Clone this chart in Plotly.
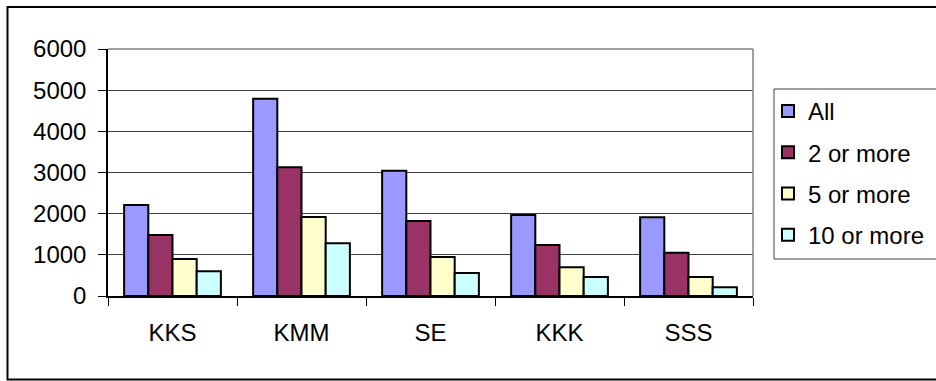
import plotly.graph_objects as go

# ---- data ----
categories = ["KKS", "KMM", "SE", "KKK", "SSS"]
series_names = ["All", "2 or more", "5 or more", "10 or more"]
all_counts = [2210, 4790, 3040, 1970, 1910]
two_or_more = [1480, 3130, 1820, 1240, 1050]
five_or_more = [900, 1920, 950, 700, 460]
ten_or_more = [600, 1280, 560, 460, 210]
y_ticks = [0, 1000, 2000, 3000, 4000, 5000, 6000]

series_values = [all_counts, two_or_more, five_or_more, ten_or_more]
series_colors = ["#9999FF", "#993366", "#FFFFCC", "#CCFFFF"]

# ---- geometry (pixels) ----
W, H = 936, 381
L, R, T, B = 108, 936 - 753, 49, 381 - 296
plot_w = W - L - R
plot_h = H - T - B


def px_x(p):
    return (p - L) / plot_w


def px_y(p):
    return (H - B - p) / plot_h


FONT = "Liberation Sans, Arial, sans-serif"
FS = 24

fig = go.Figure()
for i, (name, vals, col) in enumerate(zip(series_names, series_values, series_colors)):
    fig.add_trace(go.Bar(
        x=categories, y=vals, name=name,
        marker=dict(color=col, line=dict(color="black", width=2)),
        legendgroup=f"g{i}",
    ))

shapes = [
    # outer chart frame
    dict(type="rect", xref="paper", yref="paper",
         x0=px_x(7.5), x1=px_x(940), y0=px_y(379.5), y1=px_y(7),
         line=dict(color="black", width=2), fillcolor="white", layer="below"),
    # plot area top/right edges
    dict(type="line", xref="paper", yref="paper", x0=0, x1=1, y0=1, y1=1,
         line=dict(color="#808080", width=1.5)),
    dict(type="line", xref="paper", yref="paper", x0=1, x1=1, y0=0, y1=1,
         line=dict(color="#808080", width=1.5)),
    # legend box
    dict(type="rect", xref="paper", yref="paper",
         x0=px_x(774), x1=px_x(945), y0=px_y(259), y1=px_y(89),
         line=dict(color="#404040", width=1), fillcolor="white", layer="below"),
]

fig.update_layout(
    width=W, height=H,
    margin=dict(l=L, r=R, t=T, b=B, pad=0, autoexpand=False),
    paper_bgcolor="white",
    plot_bgcolor="#C0C0C0",
    barmode="group", bargap=0.25, bargroupgap=0,
    font=dict(family=FONT, size=FS, color="black"),
    showlegend=True,
    legend=dict(
        x=px_x(768), xanchor="left", y=px_y(89), yanchor="top",
        bgcolor="rgba(0,0,0,0)", borderwidth=0,
        font=dict(family=FONT, size=FS, color="black"),
        traceorder="grouped", tracegroupgap=7,
    ),
    shapes=shapes,
)

fig.update_xaxes(
    showline=True, linecolor="black", linewidth=1.5,
    ticks="outside", ticklen=8, tickcolor="black", tickwidth=1,
    tickson="boundaries", showgrid=False,
    ticklabelstandoff=14,
    tickfont=dict(family=FONT, size=FS),
)
fig.update_yaxes(
    range=[0, 6000], tickvals=y_ticks, ticktext=[str(v) for v in y_ticks],
    showline=True, linecolor="black", linewidth=1.5,
    ticks="outside", ticklen=8, tickcolor="black", tickwidth=1,
    showgrid=True, gridcolor="#404040", gridwidth=1,
    zeroline=False, ticklabelstandoff=7,
    tickfont=dict(family=FONT, size=FS),
)

fig.write_html("out.html")
